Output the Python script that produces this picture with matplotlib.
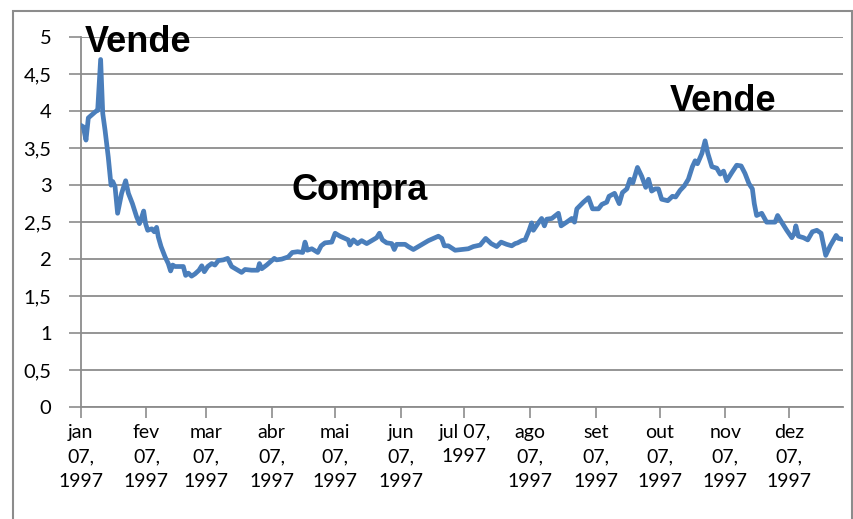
import matplotlib.pyplot as plt
import matplotlib.dates as mdates
from matplotlib.patches import Rectangle
from matplotlib.ticker import FixedLocator, FuncFormatter
from datetime import date

inicio = date(1997, 1, 7)

# days after jan 7, 1997
dias = [0, 1.2, 2.5, 3.6, 5.2, 7.2, 8.0, 9.4, 10.4, 11.5, 13.0, 14.3, 15.1, 16.2,
        17.4, 19.3, 21.2, 22.5, 24.4, 26.4, 27.7, 28.8, 29.7, 30.6, 31.6, 33.5,
        34.7, 35.8, 36.6, 37.9, 39.8, 41.3, 42.4, 43.4, 44.5, 47.3, 48.4, 49.5,
        50.8, 52.3, 53.9, 55.8, 57.1, 58.3, 59.9, 61.8, 63.3, 64.9, 67.3, 69.3,
        71.2, 73.6, 75.9, 77.5, 80.6, 83.5, 84.3, 85.4, 87.7, 89.3, 91.3, 92.4,
        94.8, 97.9, 99.8, 102.3, 104.7, 105.8, 106.9, 109.0, 111.8, 113.4, 115.2,
        118.4, 120.0, 122.3, 124.7, 126.2, 127.0, 128.6, 130.6, 132.5, 134.9,
        137.2, 139.6, 140.9, 142.3, 144.3, 146.7, 147.9, 149.0, 153.0, 154.5,
        156.9, 159.3, 161.6, 164.0, 166.3, 168.7, 170.3, 171.5, 173.4, 176.6,
        179.7, 182.8, 185.2, 188.4, 191.0, 193.6, 196.2, 198.3, 200.9, 203.3,
        204.9, 206.1, 208.0, 209.6, 211.5, 212.7, 213.5, 215.6, 217.4, 218.7,
        219.8, 222.2, 225.3, 226.6, 229.2, 231.6, 232.9, 234.0, 237.1, 239.5,
        241.4, 244.2, 245.8, 248.1, 249.2, 251.8, 254.0, 255.5, 257.6, 259.1,
        260.4, 262.6, 264.6, 266.5, 267.8, 269.3, 270.9, 272.5, 274.0, 276.9,
        279.1, 280.6, 282.7, 284.7, 286.6, 288.5, 289.8, 290.9, 293.0, 294.5,
        295.8, 297.7, 300.0, 301.6, 303.2, 304.7, 307.1, 309.4, 311.5, 313.3,
        315.2, 316.8, 317.7, 318.8, 321.2, 323.5, 327.5, 328.7, 330.6, 333.0,
        335.4, 336.6, 337.3, 338.5, 340.9, 342.9, 345.1, 347.2, 349.2, 351.4,
        353.5, 356.3, 357.4, 359.0]

valores = [3.81, 3.79, 3.61, 3.91, 3.95, 4.00, 4.01, 4.70, 3.97, 3.74, 3.38, 3.00, 3.05, 2.98,
           2.62, 2.89, 3.06, 2.89, 2.75, 2.57, 2.48, 2.57, 2.65, 2.48, 2.39, 2.41,
           2.37, 2.43, 2.30, 2.17, 2.03, 1.94, 1.84, 1.92, 1.90, 1.90, 1.90, 1.78,
           1.81, 1.77, 1.80, 1.85, 1.91, 1.83, 1.90, 1.94, 1.92, 1.98, 1.99, 2.01,
           1.90, 1.86, 1.82, 1.86, 1.85, 1.85, 1.94, 1.87, 1.92, 1.96, 2.01, 1.99,
           2.00, 2.03, 2.09, 2.10, 2.09, 2.23, 2.12, 2.14, 2.09, 2.18, 2.22,
           2.23, 2.35, 2.31, 2.28, 2.26, 2.19, 2.26, 2.21, 2.25, 2.21,
           2.25, 2.29, 2.35, 2.26, 2.22, 2.21, 2.13, 2.20, 2.20, 2.17,
           2.13, 2.17, 2.21, 2.25, 2.28, 2.31, 2.28, 2.18, 2.18, 2.12,
           2.13, 2.14, 2.17, 2.19, 2.28, 2.21, 2.17, 2.23, 2.20, 2.18,
           2.21, 2.22, 2.25, 2.26, 2.39, 2.49, 2.39, 2.48, 2.55, 2.45,
           2.54, 2.55, 2.62, 2.45, 2.50, 2.55, 2.50, 2.68, 2.77, 2.83,
           2.68, 2.68, 2.74, 2.77, 2.85, 2.89, 2.75, 2.90, 2.95, 3.08,
           3.03, 3.24, 3.12, 2.97, 3.08, 2.92, 2.95, 2.95, 2.81, 2.79,
           2.85, 2.84, 2.93, 2.99, 3.08, 3.25, 3.33, 3.29, 3.43, 3.60,
           3.43, 3.25, 3.23, 3.15, 3.19, 3.06, 3.17, 3.27, 3.26, 3.16,
           3.02, 2.95, 2.75, 2.59, 2.62, 2.50, 2.50, 2.59, 2.50, 2.39,
           2.29, 2.35, 2.45, 2.31, 2.29, 2.26, 2.37, 2.39, 2.35, 2.05,
           2.18, 2.32, 2.28, 2.27]

tick_datas = [date(1997, m, 7) for m in range(1, 13)]
tick_rotulos = ["jan\n07,\n1997", "fev\n07,\n1997", "mar\n07,\n1997", "abr\n07,\n1997",
                "mai\n07,\n1997", "jun\n07,\n1997", "jul 07,\n1997", "ago\n07,\n1997",
                "set\n07,\n1997", "out\n07,\n1997", "nov\n07,\n1997", "dez\n07,\n1997"]
y_ticks = [0, 0.5, 1, 1.5, 2, 2.5, 3, 3.5, 4, 4.5, 5]

cinza = '#8c8c8c'
W, H = 854, 519

fig = plt.figure(figsize=(W / 100, H / 100), dpi=100)
ax = fig.add_axes([80.7 / W, 1 - 407 / H, (842.7 - 80.7) / W, (407 - 37.3) / H])

x0 = mdates.date2num(inicio)
x = [x0 + d for d in dias]
ax.plot(x, valores, color='#4a7ebb', lw=3.4, solid_joinstyle='round', zorder=3)

ax.set_xlim(x0, x0 + 359.4)
ax.set_ylim(0, 5)

ax.xaxis.set_major_locator(FixedLocator([mdates.date2num(d) for d in tick_datas]))
ax.set_xticklabels(tick_rotulos, fontsize=14, family='Lato', linespacing=1.55)
ax.yaxis.set_major_locator(FixedLocator(y_ticks))
ax.yaxis.set_major_formatter(FuncFormatter(lambda v, p: f"{v:g}".replace('.', ',')))
for lb in ax.get_yticklabels():
    lb.set_fontsize(14.5)
    lb.set_family('Lato')

ax.tick_params(axis='x', length=8, width=1.2, color=cinza, pad=4)
ax.tick_params(axis='y', length=9, width=1.2, color=cinza, pad=12)

ax.grid(axis='y', color=cinza, lw=1.3)
ax.set_axisbelow(True)
for s in ['top', 'right']:
    ax.spines[s].set_visible(False)
for s in ['left', 'bottom']:
    ax.spines[s].set_color(cinza)
    ax.spines[s].set_linewidth(1.3)

fig.text(85 / W, 1 - 52 / H, "Vende", fontsize=26, fontweight='bold',
         family='Liberation Sans', va='baseline', ha='left')
fig.text(670 / W, 1 - 111 / H, "Vende", fontsize=26, fontweight='bold',
         family='Liberation Sans', va='baseline', ha='left')
fig.text(292 / W, 1 - 200 / H, "Compra", fontsize=26, fontweight='bold',
         family='Liberation Sans', va='baseline', ha='left')

fig.patches.append(Rectangle((13 / W, -0.05), (852 - 13) / W, 1.05 - 11 / H,
                             transform=fig.transFigure, fill=False,
                             ec=cinza, lw=1.5))

fig.savefig('out.png', dpi=100)
